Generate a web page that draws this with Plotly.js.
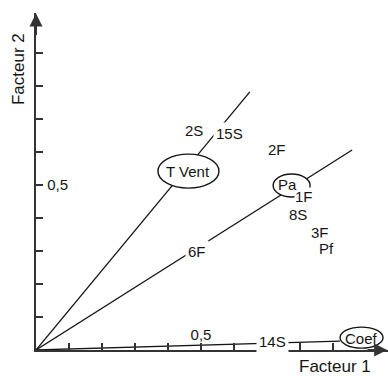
<!DOCTYPE html>
<html>
<head>
<meta charset="utf-8">
<script src="https://cdn.plot.ly/plotly-3.0.1.min.js"></script>
<style>
  html, body { margin: 0; padding: 0; background: #fff; }
  #chart { width: 388px; height: 376px; }
</style>
</head>
<body>
<div id="chart"></div>
<script>
// ---- Data (factor loadings) ----
const varNames = ['2S', '15S', '2F', 'T Vent', 'Pa', '1F', '8S', '3F', 'Pf', '6F', '14S', 'Coef'];
const factor1  = [0.479, 0.585, 0.730, 0.462, 0.761, 0.812, 0.794, 0.861, 0.879, 0.488, 0.718, 0.985];
const factor2  = [0.664, 0.655, 0.609, 0.542, 0.503, 0.464, 0.412, 0.355, 0.309, 0.297, 0.027, 0.036];

// Directions drawn from the origin
const lineTargets = ['T Vent', 'Pa', 'Coef'];
const lineEndF1   = [0.648, 0.958, 0.921];
const lineEndF2   = [0.782, 0.606, 0.027];

// Axis ticks
const tickValues  = [0.1, 0.2, 0.3, 0.4, 0.5, 0.6, 0.7, 0.8, 0.9];
const xTickLabels = ['', '', '', '', '0,5', '', '', '', ''];
const yTickLabels = ['', '', '', '', '\u00a00,5', '', '', '', ''];

// Circled variables (ellipse pixel extents relative to label)
const circled = {
  'T Vent': [-30.5, 30.5, -17, 17],
  'Pa':     [-14, 23, -13, 10],
  'Coef':   [-21, 22, -10, 11]
};

const ink = '#151515';
const axisInk = '#333333';
const font = 'Liberation Sans, Arial, sans-serif';

const traces = lineTargets.map((name, i) => ({
  type: 'scatter',
  mode: 'lines',
  name: name,
  x: [0, lineEndF1[i]],
  y: [0, lineEndF2[i]],
  line: { color: ink, width: 1.3 },
  hoverinfo: 'skip'
}));

const shapes = Object.keys(circled).map(name => {
  const k = varNames.indexOf(name);
  const e = circled[name];
  return {
    type: 'circle', xref: 'x', yref: 'y',
    xsizemode: 'pixel', ysizemode: 'pixel',
    xanchor: factor1[k], yanchor: factor2[k],
    x0: e[0], x1: e[1], y0: e[2], y1: e[3],
    fillcolor: '#ffffff',
    line: { color: ink, width: 1.4 },
    layer: 'above'
  };
});

function labelAnn(i) {
  const name = varNames[i];
  return {
    x: factor1[i], y: factor2[i], xref: 'x', yref: 'y',
    text: name, showarrow: false,
    xanchor: 'center', yanchor: 'middle',
    font: { family: font, size: 15, color: ink },
    bgcolor: circled[name] ? 'rgba(0,0,0,0)' : '#ffffff',
    borderpad: name === '1F' ? 0 : 2
  };
}
// plain labels first, circled labels on top
const annotations = [];
varNames.forEach((n, i) => { if (!circled[n]) annotations.push(labelAnn(i)); });
varNames.forEach((n, i) => { if (circled[n]) annotations.push(labelAnn(i)); });

// axis arrow heads
annotations.push({
  x: 1.064, y: 0, ax: 1.0, ay: 0, xref: 'x', yref: 'y', axref: 'x', ayref: 'y',
  text: '', showarrow: true, arrowhead: 2, arrowsize: 1.3, arrowwidth: 2,
  arrowcolor: axisInk, standoff: 0, startstandoff: 0
});
annotations.push({
  x: 0, y: 1.02, ax: 0, ay: 0.95, xref: 'x', yref: 'y', axref: 'x', ayref: 'y',
  text: '', showarrow: true, arrowhead: 2, arrowsize: 1.3, arrowwidth: 2,
  arrowcolor: axisInk, standoff: 0, startstandoff: 0
});
// axis titles
annotations.push({
  x: 0.849, y: -0.05, xref: 'paper', yref: 'paper',
  text: 'Facteur 1', showarrow: false, xanchor: 'center', yanchor: 'middle',
  font: { family: font, size: 17, color: ink }
});
annotations.push({
  x: -0.048, y: 0.834, xref: 'paper', yref: 'paper',
  text: 'Facteur 2', showarrow: false, xanchor: 'center', yanchor: 'middle',
  textangle: -90,
  font: { family: font, size: 17, color: ink }
});

const axisCommon = {
  tickmode: 'array', tickvals: tickValues,
  ticks: 'inside', ticklen: 7, tickwidth: 1.5, tickcolor: axisInk,
  ticklabelposition: 'inside',
  tickfont: { family: font, size: 15, color: ink },
  showgrid: false, zeroline: false,
  showline: true, linewidth: 2, linecolor: axisInk,
  fixedrange: true
};

const layout = {
  width: 388, height: 376,
  margin: { l: 36, r: 0, t: 13, b: 26, pad: 0 },
  paper_bgcolor: '#ffffff', plot_bgcolor: '#ffffff',
  showlegend: false,
  xaxis: Object.assign({}, axisCommon, { range: [0, 1.0667], ticktext: xTickLabels }),
  yaxis: Object.assign({}, axisCommon, { range: [0, 1.0212], ticktext: yTickLabels }),
  shapes: shapes,
  annotations: annotations
};

Plotly.newPlot('chart', traces, layout, { displayModeBar: false, staticPlot: true });
</script>
</body>
</html>
